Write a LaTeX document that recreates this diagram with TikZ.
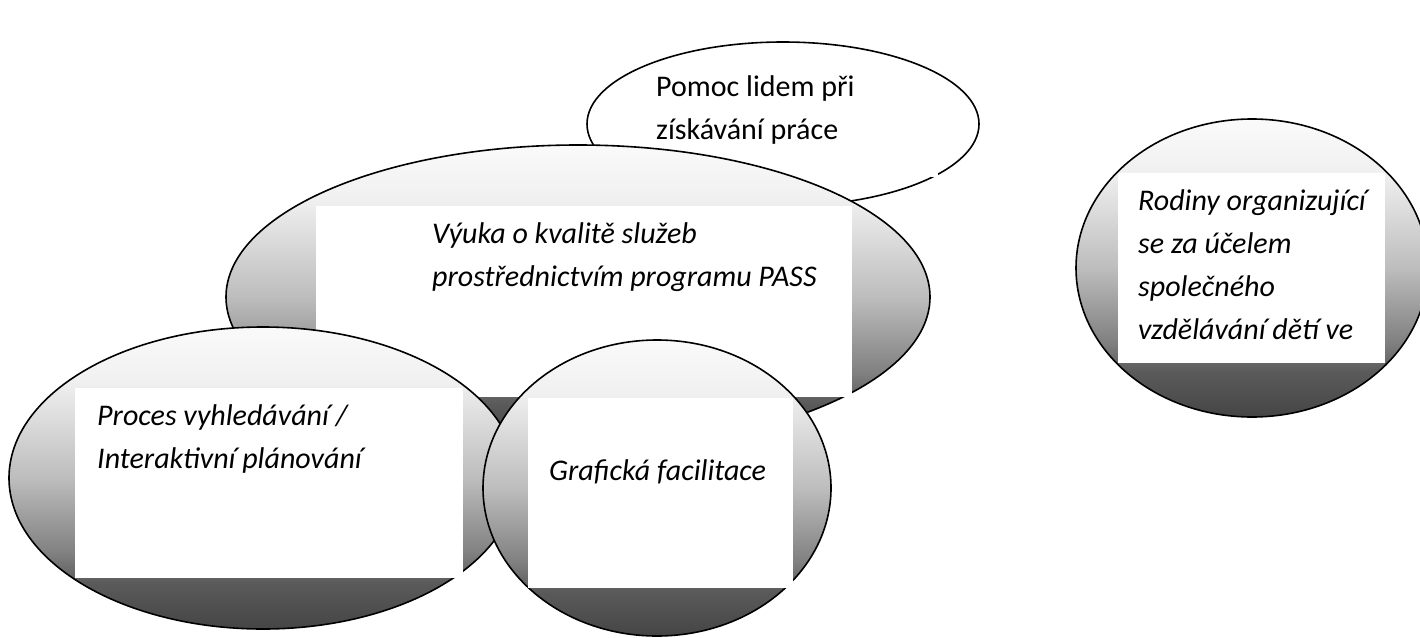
\documentclass[tikz,border=0pt]{standalone}
\usepackage{fontspec}
\setmainfont{Carlito}
\usepackage{xcolor}
\usepackage{tikz}
\usetikzlibrary{shapes.geometric,positioning}

\definecolor{shadeA}{HTML}{FAFAFA}
\definecolor{shadeB}{HTML}{F0F0F0}
\definecolor{shadeC}{HTML}{BDBDBD}
\definecolor{shadeD}{HTML}{808080}
\definecolor{shadeE}{HTML}{5A5A5A}
\definecolor{shadeF}{HTML}{454545}
\pgfdeclareverticalshading{bubbleshade}{100bp}{color(0bp)=(shadeF); color(25bp)=(shadeF); color(32.5bp)=(shadeE); color(37.5bp)=(shadeD); color(50bp)=(shadeC); color(66bp)=(shadeB); color(75bp)=(shadeA); color(100bp)=(shadeA)}

\begin{document}
\begin{tikzpicture}[x=1pt, y=-1pt,
    bubble/.style={ellipse, draw, line width=1.6pt, inner sep=0pt, shading=bubbleshade},
    plainbubble/.style={ellipse, draw, line width=1.6pt, inner sep=0pt, fill=white},
    textbox/.style={rectangle, fill=white, inner sep=0pt, anchor=north west},
    caption/.style={anchor=north west, inner sep=0pt, align=left, font=\fontsize{30}{43}\selectfont\itshape}
]
    \useasboundingbox (0,0) rectangle (1420,637);

    % Top bubble, no shading
    \node[plainbubble, minimum width=392pt, minimum height=164pt] (pomoc) at (783,124) {};
    \node[textbox, minimum width=301pt, minimum height=102pt] (pomocbox) at (637,75) {};
    \node[caption, font=\fontsize{30}{43}\selectfont] (pomoctext) at (656,75) {Pomoc lidem při\\získávání práce};

    % Middle bubble
    \node[bubble, minimum width=704pt, minimum height=304pt] (vyuka) at (578,297) {};
    \node[textbox, minimum width=536pt, minimum height=191pt] (vyukabox) at (316,206) {};
    \node[caption] (vyukatext) at (432,222) {Výuka o kvalitě služeb\\prostřednictvím programu PASS};

    % Lower left bubbles
    \node[bubble, minimum width=508pt, minimum height=302pt] (proces) at (263,478) {};
    \node[textbox, minimum width=388pt, minimum height=190pt] (procesbox) at (75,388) {};
    \node[caption] (procestext) at (97,404) {Proces vyhledávání /\\Interaktivní plánování};

    \node[bubble, minimum width=348pt, minimum height=296pt] (graficka) at (657,488) {};
    \node[textbox, minimum width=265pt, minimum height=190pt] (grafickabox) at (528,398) {};
    \node[caption] (grafickatext) at (549,459) {Grafická facilitace};

    % Right bubble
    \node[bubble, minimum width=352pt, minimum height=298pt] (rodiny) at (1252,268) {};
    \node[textbox, minimum width=267pt, minimum height=190pt] (rodinybox) at (1118,173) {};
    \node[caption] (rodinytext) at (1138,189) {Rodiny organizující\\se za účelem\\společného\\vzdělávání dětí ve};
\end{tikzpicture}
\end{document}
